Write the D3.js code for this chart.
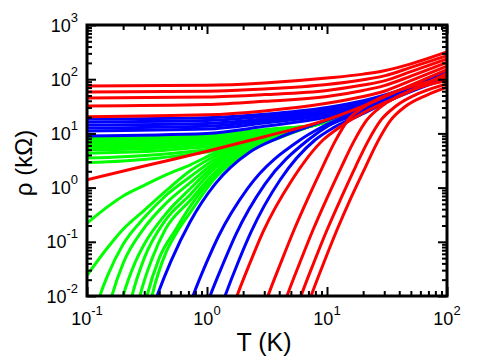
<!DOCTYPE html>
<html>
<head>
<meta charset="utf-8">
<script src="https://cdn.jsdelivr.net/npm/d3@7"></script>
<style>
  body { margin: 0; background: #fff; }
  svg { display: block; font-family: "Liberation Sans", Arial, sans-serif; }
</style>
</head>
<body>
<svg id="chart" width="480" height="361"></svg>
<script>
// ---- data: T in K, rho in kOhm ----

// axis ticks
const xMajor = [0.1, 1, 10, 100];
const xExp = ["-1", "0", "1", "2"];
const yMajor = [0.01, 0.1, 1, 10, 100, 1000];
const yExp = ["-2", "-1", "0", "1", "2", "3"];

// red, nearly flat at low T
const redFlatT = [0.1, 1, 3, 10, 20, 30, 50, 100];
const redFlatRho = [
  [75, 77, 85, 105, 124, 143, 192, 318],
  [58, 60, 66, 80, 98, 115, 165, 273],
  [45, 47, 52, 62, 78, 93, 138, 236],
  [32, 34, 39, 48, 62, 76, 114, 204],
  [20.3, 22, 26, 36, 48, 60, 94, 175]
];
// red, the straight one starting near 1.4
const redLine = [[0.1, 1.4], [0.3, 2.5], [1, 4.7], [3, 8.7], [10, 18], [20, 32], [50, 78], [100, 150]];
// red, dropping to zero at low T
const redDrop = [
  [[1.468, 0.0029], [1.778, 0.01], [2.28, 0.0406], [2.93, 0.152], [5.11, 1.38], [9.26, 7.55], [12.8, 13.1], [20.7, 24.8], [40.6, 49], [100, 128]],
  [[2.66, 0.0029], [3.22, 0.01], [4.14, 0.042], [5.31, 0.165], [6.95, 0.64], [9.26, 2.5], [11.7, 7.2], [14.96, 17.7], [19.95, 30], [33.5, 54], [59.6, 81.5], [100, 110]],
  [[3.83, 0.0029], [4.64, 0.01], [5.96, 0.042], [7.64, 0.165], [10.0, 0.64], [13.3, 2.5], [16.8, 7.2], [21.5, 17.7], [28.7, 32], [49.2, 61], [100, 95]],
  [[5.01, 0.0029], [6.07, 0.01], [7.79, 0.042], [10.0, 0.165], [13.1, 0.64], [17.4, 2.5], [22.0, 7.2], [28.2, 17.7], [37.6, 32], [59.6, 56], [100, 82]],
  [[6.07, 0.0029], [7.36, 0.01], [9.44, 0.042], [12.1, 0.165], [15.8, 0.64], [21.1, 2.5], [26.6, 7.2], [34.1, 17.7], [45.5, 32], [68.1, 51], [100, 71]]
];

// blue, nearly flat
const blueFlatT = [0.1, 1, 3, 10, 20, 40, 100];
const blueFlatRho = [
  [18.4, 19.5, 22.5, 30, 40, 62, 135],
  [16.3, 17.3, 20.5, 28, 38, 60, 131],
  [14.3, 15.3, 18.5, 26, 36, 58, 127],
  [12.6, 13.6, 17, 24, 34, 56, 123],
  [11.1, 12, 15.5, 22, 32, 54, 119],
  [9.0, 10, 13.5, 20, 30, 52, 115]
];
// blue, dropping
const blueDrop = [
  [[0.316, 0.003], [0.383, 0.01], [0.501, 0.044], [0.722, 0.232], [1.166, 1.16], [2.28, 4.54], [3.9, 8.2], [7.21, 13.7], [18.8, 28.3], [40.6, 55], [100, 120]],
  [[0.63, 0.003], [0.764, 0.01], [0.98, 0.039], [1.25, 0.128], [2.19, 0.98], [5.96, 7.55], [9.07, 13.1], [18.8, 25.9], [40.6, 53], [100, 115]],
  [[0.875, 0.003], [1.06, 0.01], [1.36, 0.039], [1.745, 0.139], [3.04, 1.16], [6.95, 7.55], [10.2, 13.7], [18.8, 23.8], [40.6, 51], [100, 110]],
  [[1.166, 0.003], [1.413, 0.01], [1.81, 0.041], [2.33, 0.152], [4.06, 1.38], [7.94, 7.55], [11.2, 12.6], [18.8, 21.8], [40.6, 49], [100, 105]]
];

// green, flat-ish
const greenFlatT = [0.1, 0.2, 0.4, 0.7, 1.2, 2.3, 4, 7.2, 18.8, 40.6, 100];
const greenFlatRho = [
  [8.2, 8.3, 8.5, 8.9, 9.6, 11.1, 12.4, 13.8, 27.5, 53, 115],
  [7.6, 7.7, 8.0, 8.4, 9.1, 10.7, 12.2, 13.7, 27.5, 53, 115],
  [7.0, 7.1, 7.4, 7.9, 8.6, 10.3, 12.0, 13.7, 27.5, 53, 115],
  [6.5, 6.6, 6.9, 7.4, 8.1, 9.9, 11.8, 13.6, 27.5, 53, 115],
  [6.0, 6.1, 6.4, 6.9, 7.6, 9.5, 11.5, 13.6, 27.5, 53, 115],
  [5.5, 5.6, 5.9, 6.4, 7.1, 9.1, 11.2, 13.6, 27.5, 53, 115],
  [5.0, 5.1, 5.4, 5.9, 6.6, 8.7, 10.9, 13.5, 27.5, 53, 115],
  [4.3, 4.5, 4.8, 5.3, 6.0, 8.3, 10.6, 13.5, 27.5, 53, 115],
  [3.5, 3.7, 4.1, 4.6, 5.4, 7.9, 10.3, 13.5, 27.5, 53, 115],
  [2.9, 3.1, 3.5, 4.1, 4.9, 7.5, 10.0, 13.5, 27.5, 53, 115]
];
// green, dropping
const greenDrop = [
  [[0.1, 0.22], [0.15, 0.45], [0.2, 0.7], [0.3, 1.1], [0.45, 1.7], [0.72, 2.61], [1.17, 4.35], [2.28, 7.2], [4, 9.8], [7.2, 13.5], [18.8, 27.5], [40.6, 53], [100, 115]],
  [[0.1, 0.024], [0.15, 0.08], [0.2, 0.17], [0.3, 0.38], [0.45, 0.85], [0.72, 2.02], [1.17, 3.83], [2.28, 6.85], [4, 9.6], [7.2, 13.5], [18.8, 27.5], [40.6, 53], [100, 115]],
  [[0.11, 0.003], [0.128, 0.01], [0.15, 0.025], [0.2, 0.09], [0.3, 0.28], [0.45, 0.7], [0.72, 1.57], [1.17, 3.37], [2.28, 6.5], [4, 9.4], [7.2, 13.5], [18.8, 27.5], [40.6, 53], [100, 115]],
  [[0.14, 0.003], [0.161, 0.01], [0.2, 0.04], [0.3, 0.18], [0.45, 0.5], [0.72, 1.22], [1.17, 2.97], [2.28, 6.2], [4, 9.2], [7.2, 13.5], [18.8, 27.5], [40.6, 53], [100, 115]],
  [[0.175, 0.003], [0.2, 0.01], [0.25, 0.04], [0.3, 0.09], [0.45, 0.32], [0.72, 0.94], [1.17, 2.61], [2.28, 5.9], [4, 9.0], [7.2, 13.5], [18.8, 27.5], [40.6, 53], [100, 115]],
  [[0.21, 0.003], [0.237, 0.01], [0.3, 0.05], [0.45, 0.25], [0.72, 0.73], [1.17, 2.30], [2.28, 5.6], [4, 8.8], [7.2, 13.5], [18.8, 27.5], [40.6, 53], [100, 115]],
  [[0.245, 0.003], [0.276, 0.01], [0.35, 0.05], [0.45, 0.17], [0.72, 0.57], [1.17, 1.94], [2.28, 5.35], [4, 8.6], [7.2, 13.5], [18.8, 27.5], [40.6, 53], [100, 115]],
  [[0.28, 0.003], [0.316, 0.01], [0.4, 0.05], [0.55, 0.17], [0.72, 0.44], [1.17, 1.71], [2.28, 5.1], [4, 8.4], [7.2, 13.5], [18.8, 27.5], [40.6, 53], [100, 115]],
  [[0.31, 0.003], [0.348, 0.01], [0.45, 0.06], [0.55, 0.14], [0.72, 0.34], [1.17, 1.50], [2.28, 4.9], [4, 8.3], [7.2, 13.5], [18.8, 27.5], [40.6, 53], [100, 115]]
];

// ---- chart ----
const pLeft = 87, pRight = 447, pTop = 25, pBottom = 296;

const x = d3.scaleLog().domain([0.1, 100]).range([pLeft, pRight]);
const y = d3.scaleLog().domain([0.01, 1000]).range([pBottom, pTop]);

const svg = d3.select('#chart');

svg.append('clipPath').attr('id', 'plot')
  .append('rect')
  .attr('x', pLeft).attr('y', pTop)
  .attr('width', pRight - pLeft).attr('height', pBottom - pTop);

const plot = svg.append('g').attr('clip-path', 'url(#plot)');

const line = d3.line()
  .x(d => x(d[0]))
  .y(d => y(d[1]))
  .curve(d3.curveMonotoneX);

const zipT = (ts, rows) => rows.map(r => r.map((v, i) => [ts[i], v]));

function drawCurves(curves, color) {
  plot.append('g')
    .selectAll('path')
    .data(curves)
    .join('path')
    .attr('d', line)
    .attr('fill', 'none')
    .attr('stroke', color)
    .attr('stroke-width', 3);
}

// green underneath, then blue, then red on top
drawCurves(zipT(greenFlatT, greenFlatRho), '#00ff00');
drawCurves(greenDrop, '#00ff00');
drawCurves(zipT(blueFlatT, blueFlatRho), '#0000ff');
drawCurves(blueDrop, '#0000ff');
drawCurves(zipT(redFlatT, redFlatRho), '#ff0000');
drawCurves([redLine], '#ff0000');
drawCurves(redDrop, '#ff0000');

// ticks on all four sides, pointing in
const isDecade = v => Math.abs(Math.log10(v) - Math.round(Math.log10(v))) < 1e-6;
const xMinor = x.ticks().filter(v => !isDecade(v));
const yMinor = y.ticks().filter(v => !isDecade(v));

function ticks(axisFn, scale, transform) {
  [[xMajor, yMajor, -9], [xMinor, yMinor, -5]].forEach(([xs, ys, len]) => {
    const vals = scale === x ? xs : ys;
    const gA = svg.append('g').attr('transform', transform)
      .call(axisFn(scale).tickValues(vals).tickSize(len).tickFormat(''));
    gA.select('.domain').remove();
    gA.selectAll('line').attr('stroke', '#000').attr('stroke-width', 2);
  });
}
ticks(d3.axisBottom, x, `translate(0,${pBottom})`);
ticks(d3.axisTop, x, `translate(0,${pTop})`);
ticks(d3.axisLeft, y, `translate(${pLeft},0)`);
ticks(d3.axisRight, y, `translate(${pRight},0)`);

// frame
svg.append('rect')
  .attr('x', pLeft).attr('y', pTop)
  .attr('width', pRight - pLeft).attr('height', pBottom - pTop)
  .attr('fill', 'none').attr('stroke', '#000').attr('stroke-width', 3);

// tick labels 10^n
svg.append('g').selectAll('text')
  .data(xMajor)
  .join('text')
  .attr('x', d => x(d))
  .attr('y', 325)
  .attr('text-anchor', 'middle')
  .attr('font-size', 18)
  .each(function (d, i) {
    const t = d3.select(this);
    t.append('tspan').text('10');
    t.append('tspan').attr('dy', -10).attr('font-size', 13).text(xExp[i]);
  });

svg.append('g').selectAll('text')
  .data(yMajor)
  .join('text')
  .attr('x', 78)
  .attr('y', d => y(d) + 6.5)
  .attr('text-anchor', 'end')
  .attr('font-size', 18)
  .each(function (d, i) {
    const t = d3.select(this);
    t.append('tspan').text('10');
    t.append('tspan').attr('dy', -10).attr('font-size', 13).text(yExp[i]);
  });

// axis titles
svg.append('text')
  .attr('x', 264).attr('y', 351)
  .attr('text-anchor', 'middle')
  .attr('font-size', 25)
  .text('T (K)');

svg.append('text')
  .attr('transform', 'translate(32,163) rotate(-90)')
  .attr('text-anchor', 'middle')
  .attr('font-size', 24)
  .text('ρ (kΩ)');
</script>
</body>
</html>
